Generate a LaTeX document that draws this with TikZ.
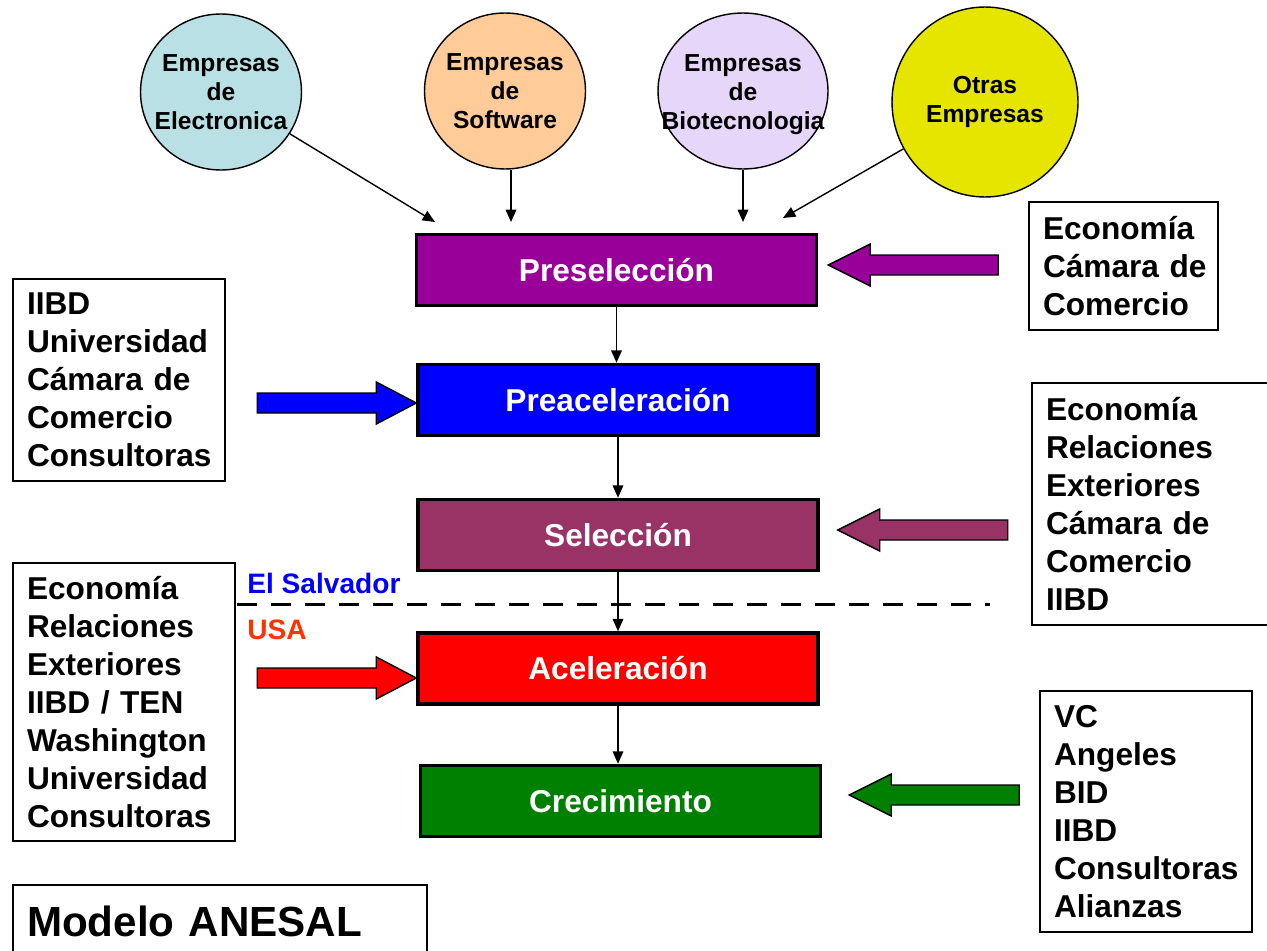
\documentclass[tikz,border=0pt]{standalone}
\usepackage{fontspec}
\setmainfont{Liberation Sans}
\usetikzlibrary{arrows.meta,shapes.geometric}

\definecolor{elecfill}{RGB}{185,224,228}
\definecolor{softfill}{RGB}{255,204,153}
\definecolor{biofill}{RGB}{230,215,250}
\definecolor{otrasfill}{RGB}{229,229,0}
\definecolor{preselfill}{RGB}{153,0,153}
\definecolor{selfill}{RGB}{153,51,102}
\definecolor{crecfill}{RGB}{0,128,0}
\definecolor{usared}{RGB}{255,51,0}

% flechas gruesas: punta, color
\newcommand{\flechaDer}[2]{\draw[line width=0.8pt,fill=#2] (#1) -- ++(-40,-21) -- ++(0,11) -- ++(-119,0) -- ++(0,20) -- ++(119,0) -- ++(0,11) -- cycle;}
\newcommand{\flechaIzq}[2]{\draw[line width=0.8pt,fill=#2] (#1) -- ++(42,-21) -- ++(0,11) -- ++(128,0) -- ++(0,20) -- ++(-128,0) -- ++(0,11) -- cycle;}

\begin{document}
\begin{tikzpicture}[x=0.02cm,y=-0.02cm,>={Triangle[length=7pt,width=6pt]}]
	\tikzstyle{empresa} = [ellipse,draw=black,line width=0.8pt,inner sep=0pt,minimum width=3.22cm,minimum height=3.12cm];
	\tikzstyle{rotulo} = [align=center,inner sep=0pt,font=\fontsize{14}{16.5}\selectfont\bfseries];
	\tikzstyle{etapa} = [rectangle,draw=black,line width=2pt,minimum width=8cm,minimum height=1.42cm,text=white,font=\fontsize{18}{21.6}\selectfont\bfseries];
	\tikzstyle{apoyo} = [rectangle,draw=black,line width=1pt,align=left,inner xsep=0.28cm,font=\fontsize{18}{21.7}\selectfont\bfseries];
	\useasboundingbox (0,0) rectangle (1267,950);

	\node[empresa,fill=elecfill,label={[rotulo]center:Empresas\\de\\Electronica}] (elec) at (221,92) {};
	\node[empresa,fill=softfill,label={[rotulo]center:Empresas\\de\\Software}] (soft) at (505,91) {};
	\node[empresa,fill=biofill,minimum width=3.4cm,label={[rotulo,yshift=-0.08cm]center:Empresas\\de\\Biotecnologia}] (bio) at (743,91) {};
	\node[empresa,fill=otrasfill,minimum width=3.72cm,minimum height=3.8cm,label={[rotulo]center:Otras\\Empresas}] (otras) at (985,102) {};

	\node[etapa,fill=preselfill] (presel) at (616.5,270) {Preselección};
	\node[etapa,fill=blue] (preacel) at (618,400) {Preaceleración};
	\node[etapa,fill=selfill] (sel) at (618,535) {Selección};
	\node[etapa,fill=red] (acel) at (618,668.5) {Aceleración};
	\node[etapa,fill=crecfill] (crec) at (620.5,801) {Crecimiento};

	\coordinate (e1) at (435,222);
	\coordinate (e2) at (511,222);
	\coordinate (e3) at (743,222);
	\coordinate (e4) at (783,218);
	\draw[->,line width=0.8pt] (elec) -- (e1);
	\draw[->,line width=0.8pt] (e2 |- soft.south) -- (e2);
	\draw[->,line width=0.8pt] (bio.south) -- (e3);
	\draw[->,line width=0.8pt] (otras) -- (e4);

	\draw[->,line width=0.8pt] (presel.south) -- (presel.south |- preacel.north);
	\draw[->,line width=0.8pt] (preacel.south) -- (preacel.south |- sel.north);
	\draw[->,line width=0.8pt] (sel.south) -- (sel.south |- acel.north);
	\draw[->,line width=0.8pt] (acel.south) -- (acel.south |- crec.north);

	\node[apoyo,text width=3.22cm,minimum height=2.56cm] (inst1) at (1123.5,266) {Economía\\Cámara~de\\Comercio};
	\node[apoyo,text width=3.68cm,minimum height=4.04cm] (inst2) at (119,380) {IIBD\\Universidad\\Cámara~de\\Comercio\\Consultoras};
	\node[apoyo,text width=4.4cm,minimum height=4.84cm] (inst3) at (1156,504) {Economía\\Relaciones\\Exteriores\\Cámara~de\\Comercio\\IIBD};
	\node[apoyo,text width=3.88cm,minimum height=5.56cm] (inst4) at (124,702) {Economía\\Relaciones\\Exteriores\\IIBD / TEN\\Washington\\Universidad\\Consultoras};
	\node[apoyo,text width=3.68cm,minimum height=4.82cm] (inst5) at (1146,811.5) {VC\\Angeles\\BID\\IIBD\\Consultoras\\Alianzas};
	\node[apoyo,line width=1.5pt,text width=7.72cm,minimum height=1.44cm,font=\fontsize{24}{28}\selectfont\bfseries] (modelo) at (220,921) {Modelo ANESAL};

	\flechaIzq{[shift={(10,-5)}]presel.east}{preselfill}
	\flechaDer{[shift={(0,3)}]preacel.west}{blue}
	\flechaIzq{[shift={(18,-5)}]sel.east}{selfill}
	\flechaDer{[shift={(0,9.5)}]acel.west}{red}
	\flechaIzq{[shift={(27,-6)}]crec.east}{crecfill}

	\coordinate (lim1) at (237,604);
	\coordinate (lim2) at (990,604);
	\draw[line width=1.7pt,dash pattern=on 0.4cm off 0.28cm] (lim1) -- (lim2);
	\node[anchor=west,inner sep=0pt,text=blue,font=\fontsize{16}{19}\selectfont\bfseries] (sv) at (247,583) {El Salvador};
	\node[anchor=west,inner sep=0pt,text=usared,font=\fontsize{16}{19}\selectfont\bfseries] (usa) at (247,630) {USA};
\end{tikzpicture}
\end{document}
